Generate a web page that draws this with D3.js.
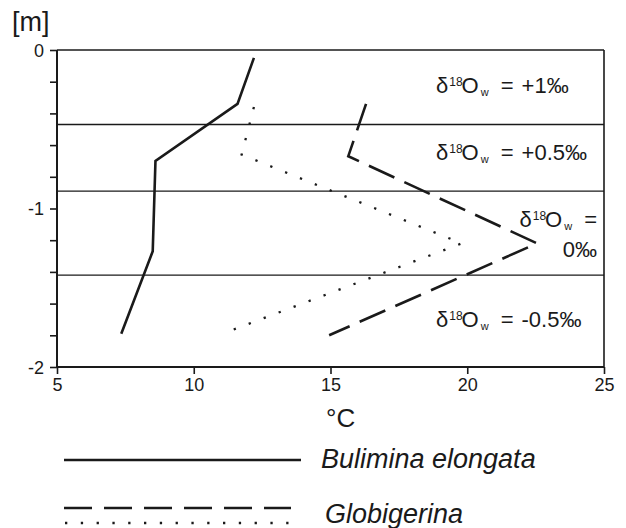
<!DOCTYPE html>
<html><head><meta charset="utf-8">
<script src="https://cdn.jsdelivr.net/npm/d3@7"></script>
<style>body{margin:0;background:#fff}svg{display:block}text{font-family:"Liberation Sans",Arial,sans-serif;fill:#1a1a1a}</style>
</head><body>
<script>
// ---- data ----
const tempTicks = [5, 10, 15, 20, 25];
const depthTicks = [0, -1, -2];
const depthMinorTicks = [0, -0.2, -0.4, -0.6, -0.8, -1, -1.2, -1.4, -1.6, -1.8, -2];
const buliminaTemp = [12.2, 11.6, 8.6, 8.5, 7.35];
const buliminaDepth = [-0.05, -0.34, -0.70, -1.27, -1.79];
const globDashedTemp = [16.3, 15.65, 22.55, 14.95];
const globDashedDepth = [-0.34, -0.67, -1.22, -1.80];
const globDottedTemp = [12.2, 11.75, 19.8, 11.05];
const globDottedDepth = [-0.36, -0.66, -1.22, -1.79];
const zoneBoundaries = [-0.47, -0.89, -1.42];
const zoneLabels = ["+1‰", "+0.5‰", "0‰", "-0.5‰"];
const legendNames = ["Bulimina elongata", "Globigerina"];

const W = 626, H = 528;
const L = 57, R = 604, T = 50, B = 367;
const svg = d3.select("body").append("svg").attr("width", W).attr("height", H);
const x = d3.scaleLinear().domain([5, 25]).range([L, R]);
const y = d3.scaleLinear().domain([0, -2]).range([T, B]);
const ink = "#1a1a1a";

// zone boundary lines
svg.selectAll(".zb").data(zoneBoundaries).enter().append("line")
  .attr("x1", L).attr("x2", R).attr("y1", d => y(d)).attr("y2", d => y(d))
  .attr("stroke", ink).attr("stroke-width", 1.3);

// frame top & right
svg.append("line").attr("x1", L).attr("x2", R).attr("y1", T).attr("y2", T).attr("stroke", ink).attr("stroke-width", 1.6);
svg.append("line").attr("x1", R).attr("x2", R).attr("y1", T).attr("y2", B).attr("stroke", ink).attr("stroke-width", 1.6);

// axes
const yAxis = d3.axisLeft(y).tickValues(depthMinorTicks).tickSize(7).tickFormat(d => depthTicks.includes(d) ? d3.format("d")(d).replace("−","-") : "");
const gy = svg.append("g").attr("transform", `translate(${L},0)`).call(yAxis);
const xAxis = d3.axisBottom(x).tickValues(tempTicks).tickSize(7).tickFormat(d3.format("d"));
const gx = svg.append("g").attr("transform", `translate(0,${B})`).call(xAxis);
[gx, gy].forEach(g => {
  g.select(".domain").attr("stroke", ink).attr("stroke-width", 2);
  g.selectAll(".tick line").attr("stroke", ink).attr("stroke-width", 1.6);
  g.selectAll(".tick text").attr("font-size", 18).attr("font-family", "Liberation Sans, Arial, sans-serif").attr("fill", ink);
});
gy.selectAll(".tick text").attr("x", -13).attr("dy", "0.35em");
gx.selectAll(".tick text").attr("y", 11).attr("dy", "0.71em");
gx.select(".domain").attr("d", `M${L},0H${R}`);
gy.select(".domain").attr("d", `M0,${T}V${B}`);

svg.append("text").attr("x", 12).attr("y", 31).attr("font-size", 27).text("[m]");
svg.append("text").attr("x", 326).attr("y", 427).attr("font-size", 26).text("°C");

// lines
const line = d3.line().x(d => x(d[0])).y(d => y(d[1]));
function series(t, dd) { return t.map((v, i) => [v, dd[i]]); }
svg.append("path").attr("d", line(series(buliminaTemp, buliminaDepth)))
  .attr("fill", "none").attr("stroke", ink).attr("stroke-width", 2.6).attr("stroke-linejoin", "miter");
svg.append("path").attr("d", line(series(globDashedTemp, globDashedDepth)))
  .attr("fill", "none").attr("stroke", ink).attr("stroke-width", 2.6).attr("stroke-dasharray", "28,11");
svg.append("path").attr("d", line(series(globDottedTemp, globDottedDepth)))
  .attr("fill", "none").attr("stroke", ink).attr("stroke-width", 2.3).attr("stroke-dasharray", "2.3,13.7");

// zone labels
function deltaLabel(g, xPos, yPos, tail, anchor) {
  const t = g.append("text").attr("x", xPos).attr("y", yPos).attr("font-size", 22).attr("text-anchor", anchor || "start");
  t.append("tspan").text("δ");
  t.append("tspan").attr("font-size", 12).attr("dx", 1).attr("dy", -7).text("18");
  t.append("tspan").attr("dx", -1).attr("dy", 7).text("O");
  t.append("tspan").attr("font-size", 11).attr("dx", 2).attr("dy", 3).text("w");
  t.append("tspan").attr("dx", 12).attr("dy", -3).text("=");
  if (tail) t.append("tspan").attr("dx", 8).text(tail);
  return t;
}
deltaLabel(svg, 436, 93, zoneLabels[0]);
deltaLabel(svg, 436, 160, zoneLabels[1]);
deltaLabel(svg, 597, 227, null, "end");
svg.append("text").attr("x", 597).attr("y", 257).attr("font-size", 22).attr("text-anchor", "end").text(zoneLabels[2]);
deltaLabel(svg, 436, 327, zoneLabels[3]);

// legend
svg.append("line").attr("x1", 64).attr("x2", 301).attr("y1", 460).attr("y2", 460).attr("stroke", ink).attr("stroke-width", 2.6);
svg.append("text").attr("x", 321).attr("y", 468).attr("font-size", 27).attr("font-style", "italic").text(legendNames[0]);
svg.append("line").attr("x1", 64).attr("x2", 291).attr("y1", 508).attr("y2", 508).attr("stroke", ink).attr("stroke-width", 2.6).attr("stroke-dasharray", "28,12");
svg.append("line").attr("x1", 65).attr("x2", 292).attr("y1", 523).attr("y2", 523).attr("stroke", ink).attr("stroke-width", 2.3).attr("stroke-dasharray", "2.3,13.5");
svg.append("text").attr("x", 325).attr("y", 523).attr("font-size", 27).attr("font-style", "italic").text(legendNames[1]);
</script>
</body></html>
